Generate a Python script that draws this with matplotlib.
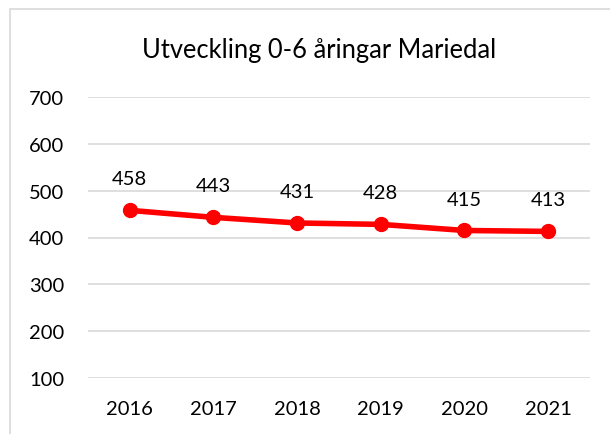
import matplotlib
matplotlib.use("Agg")
import matplotlib.pyplot as plt
from matplotlib.patches import Rectangle

years = ["2016", "2017", "2018", "2019", "2020", "2021"]
values = [458, 443, 431, 428, 415, 413]
yticks = [100, 200, 300, 400, 500, 600, 700]
title = "Utveckling 0-6 åringar Mariedal"

plt.rcParams['font.family'] = ['Lato', 'DejaVu Sans']

fig = plt.figure(figsize=(6.1, 4.35), dpi=100)
fig.patch.set_facecolor("white")
fig.patches.append(Rectangle((10/610, -0.1), 1.2, 1 - 10/435 + 0.1,
                             transform=fig.transFigure, fill=False,
                             edgecolor="#d9d9d9", linewidth=1.2))

ax = fig.add_axes([88/610, 1 - 379/435, (590-88)/610, (379-98)/435])
x = list(range(len(years)))
ax.plot(x, values, color="#ff0000", linewidth=4, marker="o",
        markersize=10, solid_capstyle="round", zorder=3)
for xi, v in zip(x, values):
    ax.annotate(str(v), (xi, v), xytext=(0, 16.5), textcoords="offset points",
                ha="center", va="bottom", fontsize=14.5, color="#000000")

ax.set_xlim(-0.5, len(years) - 0.5)
ax.set_ylim(100, 700)
ax.set_yticks(yticks)
ax.set_xticks(x)
ax.set_xticklabels(years)
ax.grid(axis="y", color="#d9d9d9", linewidth=1.2)
ax.set_axisbelow(True)
for s in ax.spines.values():
    s.set_visible(False)
ax.tick_params(axis="both", length=0, labelsize=14.5, colors="#000000")
ax.tick_params(axis="y", pad=17)
ax.tick_params(axis="x", pad=16)

fig.text(319/610, 1 - 58/435, title, ha="center", va="baseline", fontsize=18.4)

fig.savefig("out.png", dpi=100)
